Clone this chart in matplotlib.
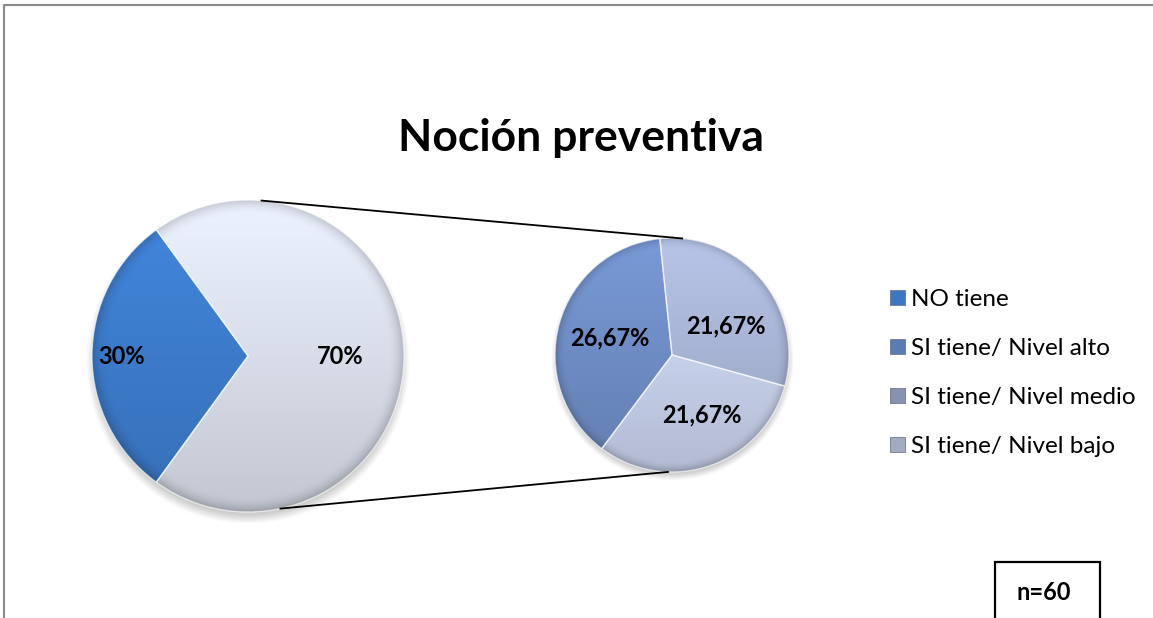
import numpy as np
import matplotlib.pyplot as plt
from matplotlib.patches import Rectangle, Patch

# Datos
main_labels = ['NO tiene', 'SI tiene']
main_values = [30, 70]
sub_labels = ['SI tiene/ Nivel alto', 'SI tiene/ Nivel medio', 'SI tiene/ Nivel bajo']
sub_values = [26.67, 21.67, 21.67]
legend_labels = ['NO tiene', 'SI tiene/ Nivel alto', 'SI tiene/ Nivel medio', 'SI tiene/ Nivel bajo']

main_colors = ['#3c7bca', '#d8dde9']
sub_colors = ['#6e8cc4', '#a7b3d3', '#c6d0ea']
legend_colors = ['#3c77c4', '#5b7bb5', '#8791b0', '#a4abc0']

W, H = 1153, 618
fig = plt.figure(figsize=(W / 100, H / 100), dpi=100)
ax = fig.add_axes([0, 0, 1, 1])

FONT = ['Lato', 'DejaVu Sans']


def fmt(v):
    if float(v).is_integer():
        return f'{int(v)}%'
    return f'{v:.2f}'.replace('.', ',') + '%'


def shade_wedges(wedges, colors, center, r):
    # relleno con degradado vertical y borde oscurecido (efecto bisel)
    cx, cy = center
    n = 300
    xs = np.linspace(cx - r, cx + r, n)
    ys = np.linspace(cy - r, cy + r, n)
    X, Y = np.meshgrid(xs, ys)
    t = (Y - cy) / r
    d = np.sqrt((X - cx) ** 2 + (Y - cy) ** 2) / r
    shade = 1.0 + 0.10 * t - 0.18 * np.clip((d - 0.90) / 0.10, 0, 1) ** 2
    for w, c in zip(wedges, colors):
        rgb = np.array(plt.matplotlib.colors.to_rgb(c))
        img = np.clip(rgb[None, None, :] * shade[..., None], 0, 1)
        im = ax.imshow(img, extent=(cx - r, cx + r, cy - r, cy + r), origin='lower',
                       zorder=2, interpolation='bilinear')
        im.set_clip_path(w)
        w.set_facecolor('none')
        w.set_edgecolor((1, 1, 1, 0.6))
        w.set_linewidth(1.0)
        w.set_zorder(3)


def soft_shadow(center, r):
    cx, cy = center
    n = 200
    xs = np.linspace(cx - 1.3 * r, cx + 1.3 * r, n)
    ys = np.linspace(cy - 1.3 * r, cy + 1.3 * r, n)
    X, Y = np.meshgrid(xs, ys)
    d = np.sqrt((X - cx) ** 2 + (Y - (cy - 0.04 * r)) ** 2) / r
    a = 0.35 * np.clip(1 - (d - 0.98) / 0.06, 0, 1)
    img = np.zeros((n, n, 4))
    img[..., :3] = 0.45
    img[..., 3] = a
    ax.imshow(img, extent=(xs[0], xs[-1], ys[0], ys[-1]), origin='lower', zorder=1,
              interpolation='bilinear')


# pie principal
c1, r1 = (248, 262), 156
start1 = 180 + 0.5 * 360 * main_values[0] / sum(main_values)
soft_shadow(c1, r1)
w1, _ = ax.pie(main_values, colors=main_colors, startangle=start1, counterclock=False,
               center=c1, radius=r1, frame=True)
shade_wedges(w1, main_colors, c1, r1)

# pie secundario
c2, r2 = (672, 263), 117
start2 = 96 + 360 * sub_values[0] / sum(sub_values)
soft_shadow(c2, r2)
w2, _ = ax.pie(sub_values, colors=sub_colors, startangle=start2, counterclock=False,
               center=c2, radius=r2, frame=True)
shade_wedges(w2, sub_colors, c2, r2)

ax.set_xlim(0, W)
ax.set_ylim(0, H)
ax.set_aspect('equal')
ax.axis('off')

# etiquetas de porcentaje
dist1 = [0.81, 0.59]
for w, v, dd in zip(w1, main_values, dist1):
    a = np.deg2rad((w.theta1 + w.theta2) / 2)
    ax.text(c1[0] + dd * r1 * np.cos(a), c1[1] + dd * r1 * np.sin(a), fmt(v),
            ha='center', va='center', fontsize=17, fontweight='bold', family=FONT, zorder=5)
dist2 = [0.55, 0.52, 0.57]
adj = [0, -12, 8]
for w, v, dd, da in zip(w2, sub_values, dist2, adj):
    a = np.deg2rad((w.theta1 + w.theta2) / 2 + da)
    ax.text(c2[0] + dd * r2 * np.cos(a), c2[1] + dd * r2 * np.sin(a), fmt(v),
            ha='center', va='center', fontsize=17, fontweight='bold', family=FONT, zorder=5)

# lineas de conexion
for a_from, a_to in [(85, 85), (-78, -92)]:
    p, q = np.deg2rad(a_from), np.deg2rad(a_to)
    ax.plot([c1[0] + r1 * np.cos(p), c2[0] + r2 * np.cos(q)],
            [c1[1] + r1 * np.sin(p), c2[1] + r2 * np.sin(q)],
            color='black', lw=1.3, zorder=4)

# titulo
fig.text(581 / W, 1 - 138 / H, 'Noción preventiva', ha='center', va='center',
         fontsize=32, fontweight='bold', family=FONT)

# leyenda
handles = [Patch(facecolor=c, edgecolor='#6f7890', linewidth=0.6) for c in legend_colors]
fig.legend(handles, legend_labels, loc='center left', bbox_to_anchor=(890 / W, 1 - 373 / H),
           frameon=False, prop={'family': FONT, 'size': 17.5}, handlelength=0.6,
           handleheight=0.6, handletextpad=0.25, labelspacing=1.15, borderpad=0,
           borderaxespad=0)

# cuadro n=60
ax.add_patch(Rectangle((995, -5), 105, H - 562 + 5, facecolor='white', edgecolor='black',
                       lw=1.6, zorder=6))
ax.text(1044, H - 593, 'n=60', ha='center', va='center', fontsize=17, fontweight='bold',
        family=FONT, zorder=7)

# marco del grafico
ax.plot([3.5, 3.5, W + 5], [-5, H - 4.5, H - 4.5], color='#8a8a8a', lw=1.5, zorder=8,
        clip_on=False)

fig.savefig('out.png', dpi=100)
